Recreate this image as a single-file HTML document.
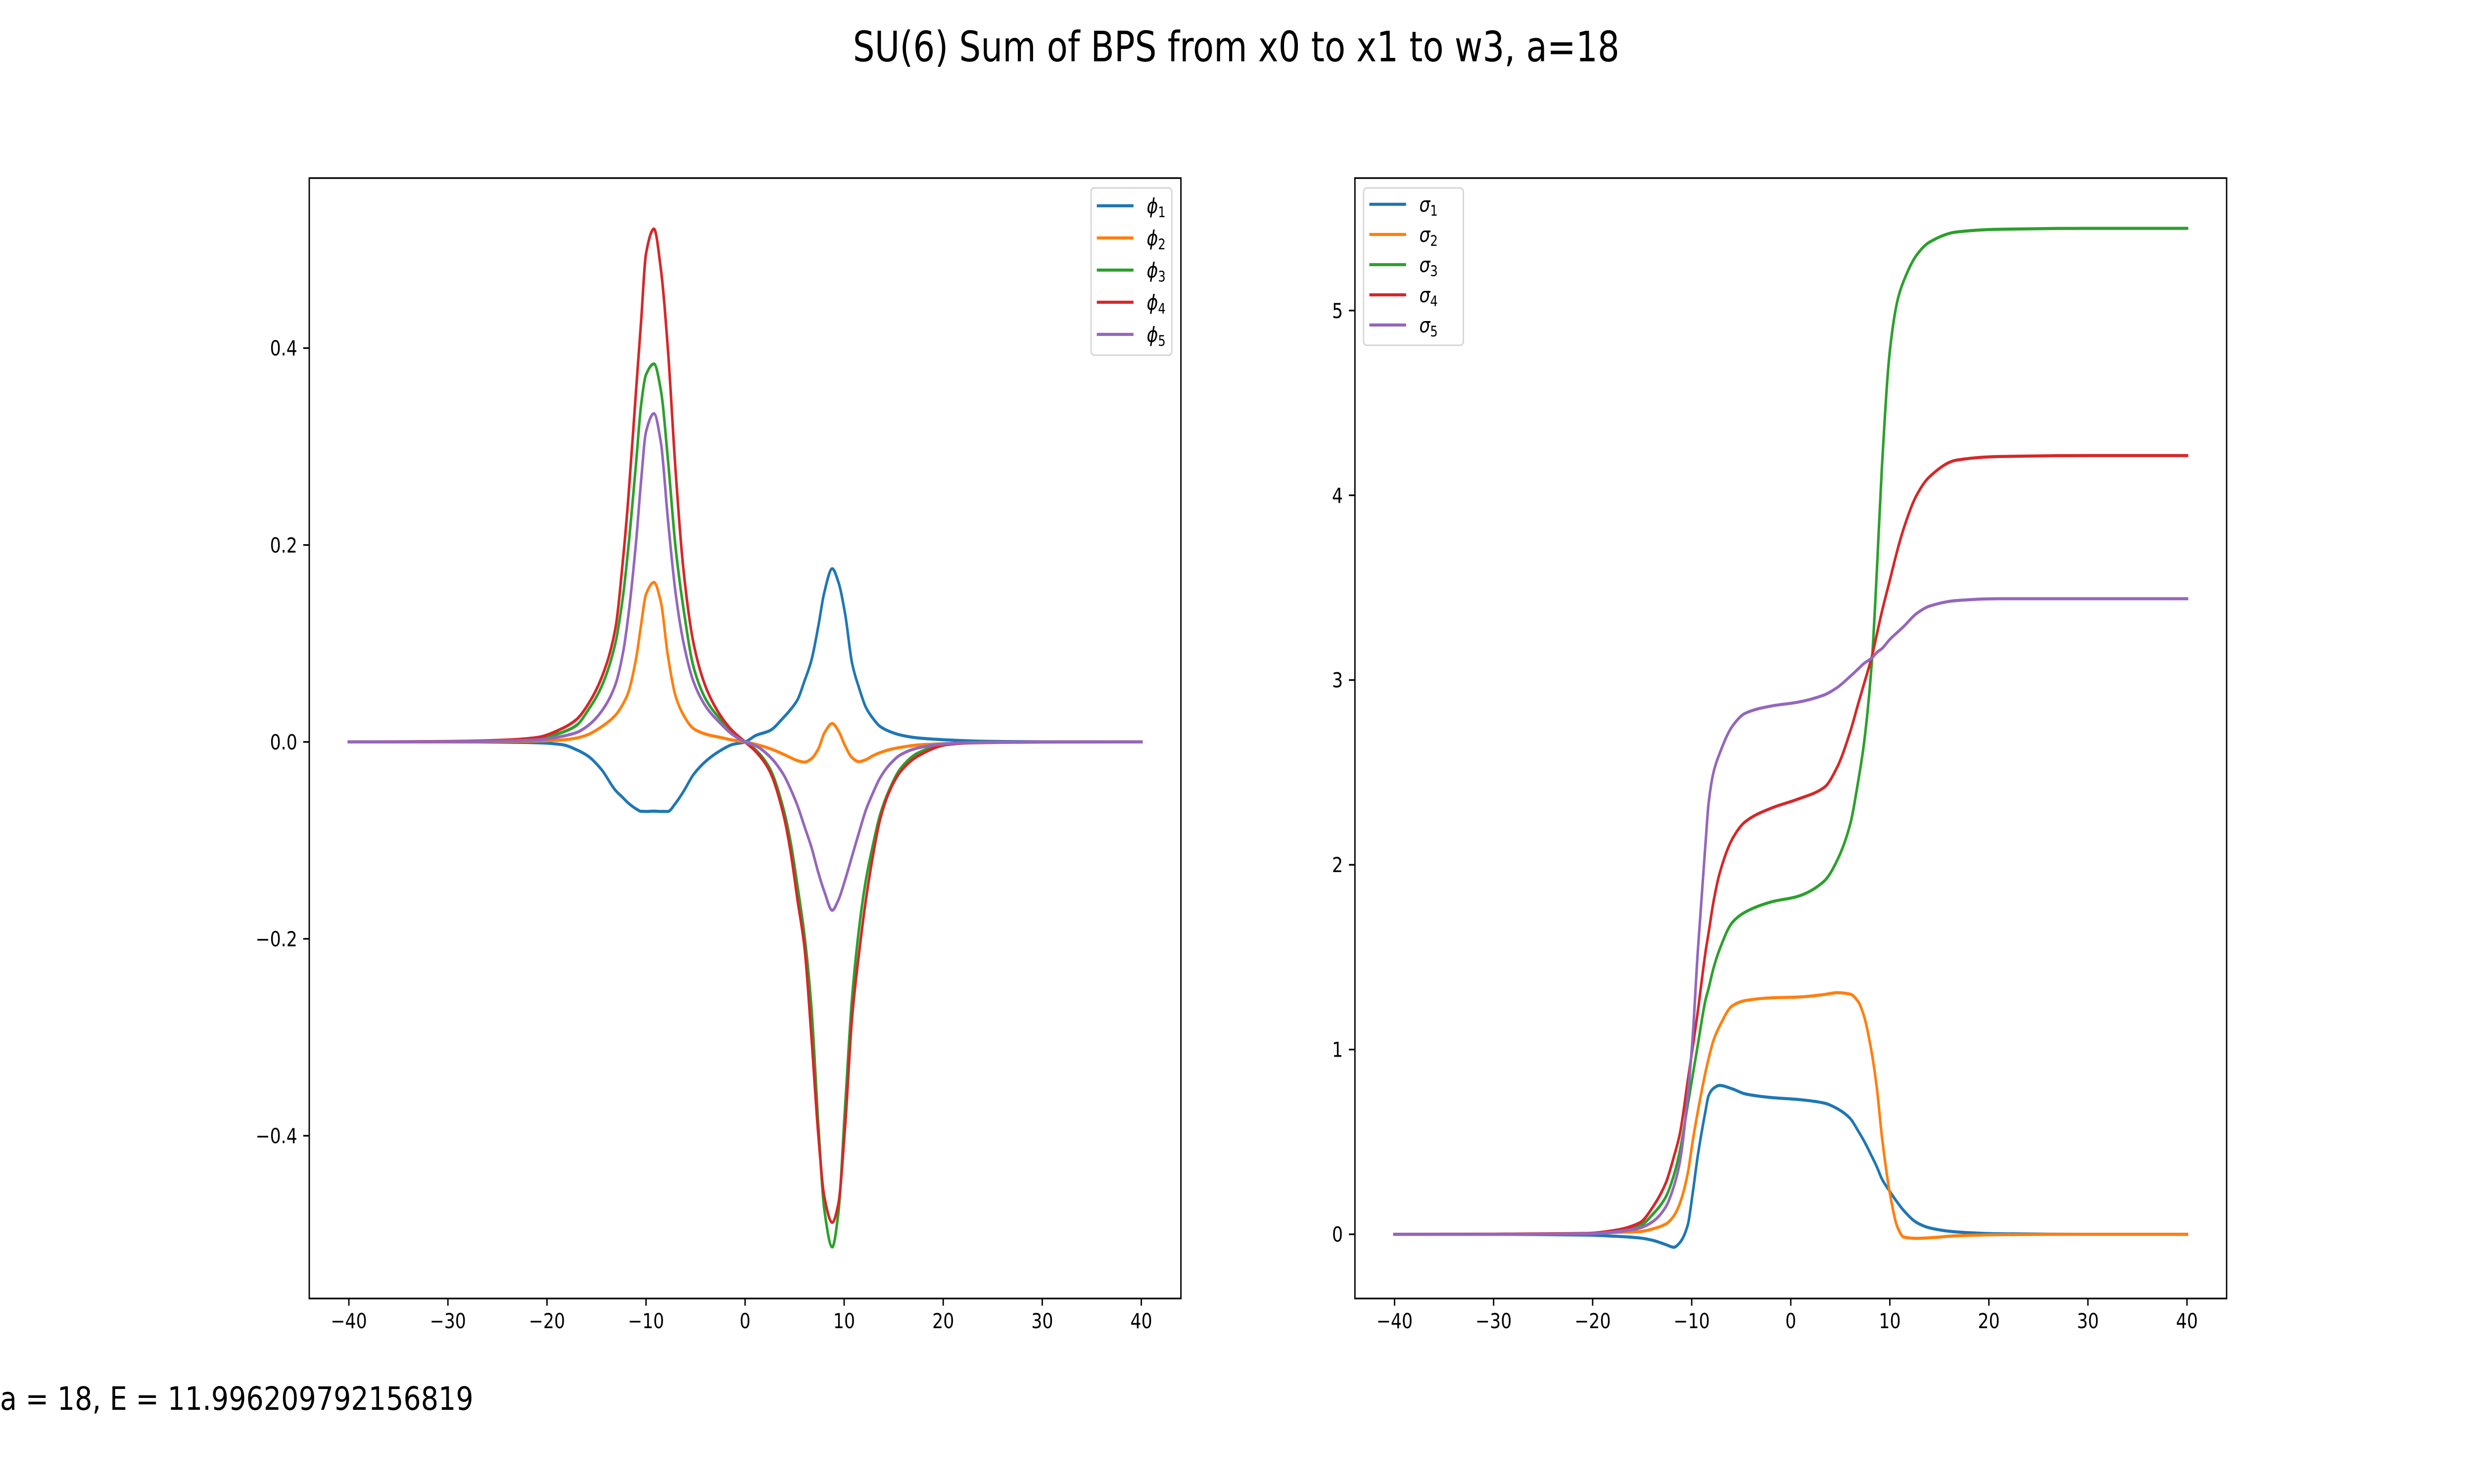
<!DOCTYPE html>
<html><head><meta charset="utf-8"><style>
html,body{margin:0;padding:0;background:#fff;width:100%;height:100%;overflow:hidden;}
svg{display:block;width:100vw;height:100vh;}
text{font-family:"DejaVu Sans","Liberation Sans",sans-serif;fill:#000;}
</style></head><body>
<svg id="fig" viewBox="0 0 6000 3000" preserveAspectRatio="none" xmlns="http://www.w3.org/2000/svg">
<rect width="6000" height="3000" fill="#fff"/>
<text x="2998" y="124" font-size="85" text-anchor="middle" textLength="1859" lengthAdjust="spacingAndGlyphs">SU(6) Sum of BPS from x0 to x1 to w3, a=18</text>
<text x="0" y="2850" font-size="65" textLength="1148" lengthAdjust="spacingAndGlyphs">a = 18, E = 11.996209792156819</text>
<g id="left"></g>
<g id="right"></g>
</svg>
<script>
const colors = ["#1f77b4","#ff7f0e","#2ca02c","#d62728","#9467bd"];
const xTicks = [-40,-30,-20,-10,0,10,20,30,40];
const leftYTicks = [-0.4,-0.2,0.0,0.2,0.4];
const leftYLabels = ["\u22120.4","\u22120.2","0.0","0.2","0.4"];
const rightYTicks = [0,1,2,3,4,5];
const rightYLabels = ["0","1","2","3","4","5"];
const phiNames = ["phi-1","phi-2","phi-3","phi-4","phi-5"];
const sigmaNames = ["sigma-1","sigma-2","sigma-3","sigma-4","sigma-5"];

const xPhi = [-40,-30,-24,-21,-18.5,-17,-15.8,-14.5,-13.1,-12.3,-11.8,-11,-10.5,-10,-9.2,-8.5,-7.8,-7,-6.2,-5.2,-3.9,-2.5,-1.3,0,1.1,2.5,3.9,4.6,5.3,6,6.7,7.4,8,8.8,9.4,10.1,10.8,11.5,12.2,12.9,13.6,14.5,15.7,17.5,20.5,24,30,40];
const phi1 = [0,0,-0.0003,-0.0008,-0.0027,-0.008,-0.0148,-0.028,-0.049,-0.057,-0.062,-0.068,-0.0705,-0.0706,-0.0703,-0.0706,-0.0706,-0.062,-0.05,-0.033,-0.019,-0.0088,-0.0027,0,0.0067,0.0115,0.025,0.033,0.043,0.062,0.083,0.118,0.152,0.176,0.163,0.13,0.08,0.055,0.035,0.024,0.016,0.011,0.007,0.004,0.002,0.0007,0.0001,0];
const phi2 = [0,0,0.0005,0.001,0.002,0.004,0.0077,0.0154,0.027,0.039,0.05,0.085,0.119,0.15,0.162,0.142,0.088,0.046,0.027,0.0135,0.0077,0.0046,0.002,0,-0.0025,-0.0067,-0.0126,-0.016,-0.019,-0.0205,-0.017,-0.007,0.009,0.0187,0.0117,-0.004,-0.016,-0.02,-0.018,-0.014,-0.011,-0.008,-0.0055,-0.003,-0.0017,-0.0008,-0.0002,0];
const phi3 = [0,0.0003,0.0015,0.003,0.0096,0.017,0.033,0.056,0.1,0.15,0.196,0.284,0.342,0.373,0.384,0.357,0.288,0.196,0.134,0.076,0.042,0.023,0.0096,0,-0.0084,-0.027,-0.069,-0.102,-0.147,-0.197,-0.27,-0.39,-0.475,-0.513,-0.48,-0.37,-0.26,-0.19,-0.14,-0.105,-0.075,-0.05,-0.027,-0.011,-0.002,-0.0004,0,0];
const phi4 = [0,0.0005,0.002,0.0045,0.0135,0.023,0.039,0.065,0.115,0.188,0.246,0.358,0.427,0.496,0.521,0.48,0.4,0.273,0.173,0.1,0.054,0.027,0.0115,0,-0.01,-0.03,-0.075,-0.112,-0.161,-0.209,-0.3,-0.4,-0.462,-0.488,-0.47,-0.39,-0.28,-0.215,-0.16,-0.116,-0.08,-0.052,-0.03,-0.014,-0.0025,-0.0005,0,0];
const phi5 = [0,0.0002,0.001,0.002,0.0057,0.0096,0.017,0.031,0.058,0.092,0.127,0.204,0.265,0.315,0.3335,0.304,0.227,0.15,0.1,0.061,0.035,0.019,0.0077,0,-0.004,-0.015,-0.0335,-0.048,-0.065,-0.086,-0.107,-0.133,-0.152,-0.171,-0.161,-0.14,-0.116,-0.092,-0.069,-0.052,-0.037,-0.024,-0.013,-0.006,-0.0017,-0.0005,0,0];

const xSigma = [-40,-30,-24,-20.5,-17.9,-15.2,-13.9,-12.6,-11.8,-11.2,-10.4,-9.9,-9.4,-8.6,-8.3,-7.8,-7.2,-5.9,-4.6,-1.9,0.7,3.4,4.7,6.0,6.8,7.4,8.2,8.7,9.2,10.0,10.8,11.4,12.7,14.0,16.7,21,30,40];
const sigma1 = [0,0,-0.002,-0.004,-0.01,-0.02,-0.033,-0.056,-0.07,-0.045,0.05,0.223,0.42,0.67,0.75,0.79,0.806,0.787,0.76,0.74,0.73,0.71,0.68,0.627,0.56,0.505,0.42,0.364,0.3,0.232,0.17,0.129,0.064,0.035,0.013,0.003,0,0];
const sigma2 = [0,0,0.002,0.004,0.01,0.015,0.03,0.056,0.1,0.167,0.33,0.505,0.66,0.88,0.95,1.05,1.125,1.237,1.265,1.28,1.284,1.298,1.308,1.3,1.26,1.18,0.974,0.787,0.53,0.223,0.035,-0.015,-0.022,-0.019,-0.008,-0.002,0,0];
const sigma3 = [0,0,0.001,0.003,0.015,0.047,0.11,0.204,0.32,0.45,0.7,0.86,1.02,1.27,1.33,1.44,1.54,1.688,1.744,1.8,1.829,1.913,2.026,2.22,2.45,2.66,3.11,3.6,4.15,4.78,5.06,5.16,5.3,5.37,5.425,5.44,5.445,5.445];
const sigma4 = [0,0.001,0.003,0.005,0.02,0.064,0.15,0.28,0.42,0.543,0.83,1.012,1.2,1.53,1.63,1.8,1.95,2.14,2.233,2.308,2.355,2.42,2.53,2.72,2.87,2.98,3.13,3.25,3.37,3.54,3.71,3.82,4.0,4.1,4.19,4.21,4.215,4.215];
const sigma5 = [0,0,0.001,0.003,0.012,0.035,0.07,0.15,0.26,0.39,0.75,1.07,1.52,2.12,2.33,2.5,2.6,2.75,2.82,2.86,2.88,2.92,2.96,3.02,3.06,3.09,3.12,3.15,3.17,3.22,3.26,3.29,3.36,3.4,3.43,3.44,3.44,3.44];

const NS = "http://www.w3.org/2000/svg";
function mk(parent, tag, attrs){
  const e = document.createElementNS(NS, tag);
  for (const k in attrs) e.setAttribute(k, attrs[k]);
  parent.appendChild(e);
  return e;
}
// monotone cubic (Fritsch-Carlson) in screen space
function smoothPath(pts){
  const n = pts.length;
  const dx = [], m = [], t = new Array(n);
  for (let i = 0; i < n-1; i++){ dx.push(pts[i+1][0]-pts[i][0]); m.push((pts[i+1][1]-pts[i][1])/dx[i]); }
  t[0] = m[0]; t[n-1] = m[n-2];
  for (let i = 1; i < n-1; i++){
    if (m[i-1]*m[i] <= 0) t[i] = 0;
    else { const w1 = 2*dx[i]+dx[i-1], w2 = dx[i]+2*dx[i-1]; t[i] = (w1+w2)/(w1/m[i-1]+w2/m[i]); }
  }
  let d = "M" + pts[0][0].toFixed(2) + "," + pts[0][1].toFixed(2);
  for (let i = 0; i < n-1; i++){
    const h = dx[i]/3;
    d += " C" + (pts[i][0]+h).toFixed(2)+","+(pts[i][1]+t[i]*h).toFixed(2)+" "+(pts[i+1][0]-h).toFixed(2)+","+(pts[i+1][1]-t[i+1]*h).toFixed(2)+" "+pts[i+1][0].toFixed(2)+","+pts[i+1][1].toFixed(2);
  }
  return d;
}

function drawPanel(g, cfg){
  const L = cfg.left, R = cfg.right, T = 360, B = 2625;
  const sx = v => L + (v - cfg.xmin) / (cfg.xmax - cfg.xmin) * (R - L);
  const sy = v => B - (v - cfg.ymin) / (cfg.ymax - cfg.ymin) * (B - T);
  const clip = mk(g, "clipPath", {id: cfg.id + "-clip"});
  mk(clip, "rect", {x: L, y: T, width: R-L, height: B-T});
  const lines = mk(g, "g", {"clip-path": "url(#" + cfg.id + "-clip)"});
  cfg.series.forEach((vals, si) => {
    const pts = cfg.x.map((xv, i) => [sx(xv), sy(vals[i])]);
    const p = mk(lines, "path", {d: smoothPath(pts), fill: "none", stroke: colors[si], "stroke-width": 6.25, "stroke-linejoin": "round", "stroke-linecap": "square"});
    
    
  });
  const frame = mk(g, "rect", {x: L, y: T, width: R-L, height: B-T, fill: "none", stroke: "#000", "stroke-width": 3.33});
  
  
  xTicks.forEach(t => {
    const x = sx(t);
    const tk = mk(g, "line", {x1: x, x2: x, y1: B, y2: B + 14.6, stroke: "#000", "stroke-width": 3.33});
    
    
    const tx = mk(g, "text", {x: x, y: 2685, "font-size": 41.7, "text-anchor": "middle"});
    tx.textContent = t < 0 ? "\u2212" + Math.abs(t) : String(t);
    
    
  });
  cfg.yTicks.forEach((t, i) => {
    const y = sy(t);
    const tk = mk(g, "line", {x1: L - 14.6, x2: L, y1: y, y2: y, stroke: "#000", "stroke-width": 3.33});
    
    
    const tx = mk(g, "text", {x: L - 29, y: y + 15, "font-size": 41.7, "text-anchor": "end"});
    tx.textContent = cfg.yLabels[i];
    
    
  });
  const lg = mk(g, "g", {});
  
  
  mk(lg, "rect", {x: cfg.lx, y: cfg.ly, width: cfg.lw, height: cfg.lh, rx: 8, ry: 8, fill: "#fff", "fill-opacity": 0.8, stroke: "#d6d6d6", "stroke-width": 3.33});
  cfg.names.forEach((n, i) => {
    const y = cfg.ly + cfg.first + i * cfg.step;
    const ln = mk(lg, "line", {x1: cfg.lx + 14, x2: cfg.lx + 103, y1: y, y2: y, stroke: colors[i], "stroke-width": 6.25});
    
    
    const tx = mk(lg, "text", {x: cfg.lx + 135, y: y + 15, "font-size": 41.7});
    const s1 = mk(tx, "tspan", {"font-style": "italic"});
    s1.textContent = cfg.sym;
    const s2 = mk(tx, "tspan", {"font-size": 29, dy: 8});
    s2.textContent = String(i + 1);
    
    
  });
}

drawPanel(document.getElementById("left"), {
  id: "phi", left: 750, right: 2864, xmin: -44, xmax: 44, ymin: -0.5653, ymax: 0.5727,
  x: xPhi, series: [phi1, phi2, phi3, phi4, phi5], names: phiNames,
  yTicks: leftYTicks, yLabels: leftYLabels,
  lx: 2646, ly: 380, lw: 196, lh: 338, first: 36, step: 65, sym: "\u03d5"
});
drawPanel(document.getElementById("right"), {
  id: "sigma", left: 3286, right: 5400, xmin: -44, xmax: 44, ymin: -0.3475, ymax: 5.717,
  x: xSigma, series: [sigma1, sigma2, sigma3, sigma4, sigma5], names: sigmaNames,
  yTicks: rightYTicks, yLabels: rightYLabels,
  lx: 3307, ly: 380, lw: 242, lh: 318, first: 33, step: 61, sym: "\u03c3"
});
</script>
</body></html>
